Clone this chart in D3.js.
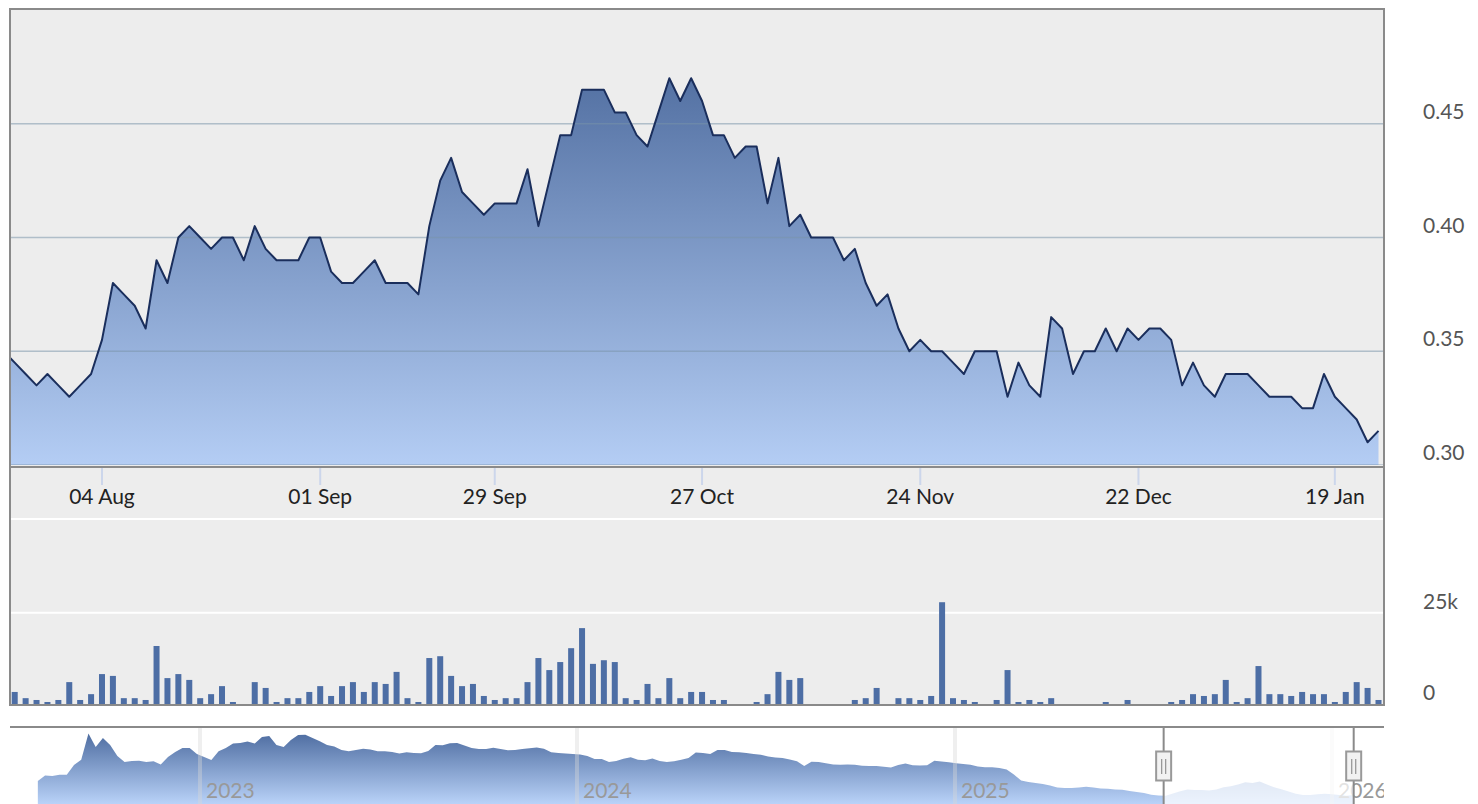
<!DOCTYPE html>
<html><head><meta charset="utf-8">
<script src="https://cdn.jsdelivr.net/npm/d3@7"></script>
<style>
html,body{margin:0;padding:0;background:#fff;}
svg{display:block;font-family:Lato,"Open Sans",sans-serif;}
</style></head><body>
<svg id="chart" width="1478" height="804"></svg>
<script>
// ---- data ----
const prices = [
0.35,0.345,0.34,0.335,0.34,0.335,0.33,0.335,0.34,0.355,
0.38,0.375,0.37,0.36,0.39,0.38,0.40,0.405,0.40,0.395,
0.40,0.40,0.39,0.405,0.395,0.39,0.39,0.39,0.40,0.40,
0.385,0.38,0.38,0.385,0.39,0.38,0.38,0.38,0.375,0.405,
0.425,0.435,0.42,0.415,0.41,0.415,0.415,0.415,0.43,0.405,
0.425,0.445,0.445,0.465,0.465,0.465,0.455,0.455,0.445,0.44,
0.455,0.47,0.46,0.47,0.46,0.445,0.445,0.435,0.44,0.44,
0.415,0.435,0.405,0.41,0.40,0.40,0.40,0.39,0.395,0.38,
0.37,0.375,0.36,0.35,0.355,0.35,0.35,0.345,0.34,0.35,
0.35,0.35,0.33,0.345,0.335,0.33,0.365,0.36,0.34,0.35,
0.35,0.36,0.35,0.36,0.355,0.36,0.36,0.355,0.335,0.345,
0.335,0.33,0.34,0.34,0.34,0.335,0.33,0.33,0.33,0.325,
0.325,0.34,0.33,0.325,0.32,0.31,0.315
];
const volumes = [
2000,3300,1600,1100,550,1100,6000,1100,2700,8200,
7700,1600,1600,1100,15900,7100,8200,6600,1600,2700,
4900,550,0,6000,4400,550,1600,1600,3300,4900,
2200,4900,6000,3300,6000,5500,8800,1600,550,12600,
13100,7700,4900,5500,2200,1100,1600,1600,6000,12600,
9300,11500,15300,20800,11000,12000,11500,1600,1100,5500,
1600,7100,1600,3300,3300,1100,1100,0,0,550,
2700,8800,6600,7100,0,0,0,0,1100,1600,
4400,0,1600,1600,1100,2200,27900,1600,1100,550,
0,1100,9300,550,1100,550,1600,0,0,0,
0,550,0,1100,0,0,0,550,1100,2700,
2200,2700,6600,550,1600,10400,2700,2700,2200,3300,
2700,2700,550,3300,6000,4400,1100
];
const tickIndex = [9,29,45,64,84,104,122];
const tickLabels = ["04 Aug","01 Sep","29 Sep","27 Oct","24 Nov","22 Dec","19 Jan"];
const priceTicks = [0.30,0.35,0.40,0.45];
const volumeTicks = [0,25000];
const navStart = "2022-07-28";
const navStepDays = 7;
const navValues = [
0.478,0.545,0.539,0.554,0.554,0.671,0.735,1.050,0.888,0.996,
0.912,0.780,0.707,0.719,0.723,0.707,0.716,0.677,0.767,0.828,
0.876,0.876,0.804,0.767,0.731,0.836,0.876,0.930,0.936,0.954,
0.930,1.008,1.020,0.912,0.888,0.972,1.032,1.036,0.996,0.957,
0.912,0.894,0.852,0.836,0.852,0.867,0.858,0.836,0.836,0.828,
0.810,0.824,0.816,0.812,0.840,0.912,0.908,0.933,0.936,0.906,
0.876,0.864,0.864,0.878,0.864,0.848,0.852,0.864,0.872,0.881,
0.867,0.824,0.816,0.810,0.804,0.798,0.780,0.743,0.743,0.707,
0.719,0.747,0.764,0.734,0.728,0.749,0.719,0.707,0.716,0.735,
0.755,0.822,0.816,0.804,0.852,0.852,0.828,0.824,0.816,0.804,
0.795,0.773,0.761,0.755,0.737,0.716,0.659,0.710,0.707,0.692,
0.677,0.675,0.677,0.675,0.661,0.659,0.659,0.649,0.641,0.671,
0.689,0.669,0.664,0.667,0.723,0.713,0.705,0.693,0.682,0.673,
0.654,0.643,0.643,0.635,0.617,0.557,0.484,0.466,0.454,0.443,
0.424,0.400,0.394,0.394,0.400,0.408,0.399,0.388,0.386,0.377,
0.373,0.358,0.346,0.333,0.313,0.304,0.302,0.328,0.354,0.376,
0.370,0.370,0.364,0.376,0.402,0.416,0.436,0.464,0.454,0.471,
0.436,0.402,0.380,0.351,0.324,0.310,0.310,0.318,0.324,0.319,
0.310,0.300,0.310
];
const navYears = ["2023","2024","2025","2026"];
const navRange = ["2025-07-22","2026-01-22"];

// ---- layout ----
const L = 10, R = 1384, T = 9, PB = 465, VT = 519, VB = 705;
const svg = d3.select("#chart");
const defs = svg.append("defs");

const x = d3.scaleLinear().domain([0, 126]).range([3.8, 1378.5]);
const yP = d3.scaleLinear().domain([0.30, 0.50]).range([465, 10]);
const yV = d3.scaleLinear().domain([0, 25000]).range([704, 612.8]);

const g1 = defs.append("linearGradient").attr("id","ga").attr("gradientUnits","userSpaceOnUse")
  .attr("x1",0).attr("x2",0).attr("y1",40).attr("y2",465);
g1.append("stop").attr("offset","0").attr("stop-color","#4a689b");
g1.append("stop").attr("offset","1").attr("stop-color","#b4cdf4");
const g2 = defs.append("linearGradient").attr("id","gn").attr("gradientUnits","userSpaceOnUse")
  .attr("x1",0).attr("x2",0).attr("y1",733).attr("y2",804);
g2.append("stop").attr("offset","0").attr("stop-color","#4e6da1");
g2.append("stop").attr("offset","1").attr("stop-color","#b9d2f8");

defs.append("clipPath").attr("id","cp").append("rect")
  .attr("x",L).attr("y",T).attr("width",R-L-1).attr("height",PB-T);
defs.append("clipPath").attr("id","cv").append("rect")
  .attr("x",L).attr("y",VT).attr("width",R-L-1).attr("height",VB-VT);
defs.append("clipPath").attr("id","cn").append("rect")
  .attr("x",L).attr("y",727).attr("width",R-L).attr("height",80);

// panel background
svg.append("rect").attr("x",L).attr("y",T).attr("width",R-L).attr("height",VB-T).attr("fill","#ededed");

// price pane
const pp = svg.append("g").attr("clip-path","url(#cp)");
pp.append("path").datum(prices)
  .attr("d", d3.area().x((d,i)=>x(i)).y0(yP(0.30)).y1(d=>yP(d)))
  .attr("fill","url(#ga)");
pp.selectAll("line.grid").data(priceTicks).join("line")
  .attr("x1",L).attr("x2",R).attr("y1",d=>yP(d)).attr("y2",d=>yP(d))
  .attr("stroke","rgba(120,148,168,0.52)").attr("stroke-width",1.6);
pp.append("path").datum(prices)
  .attr("d", d3.line().x((d,i)=>x(i)).y(d=>yP(d)))
  .attr("fill","none").attr("stroke","#1a2e5c").attr("stroke-width",2).attr("stroke-linejoin","round");

// x axis line, ticks, labels
svg.append("line").attr("x1",L).attr("x2",R).attr("y1",467).attr("y2",467)
  .attr("stroke","#8a8a8a").attr("stroke-width",2);
svg.selectAll("line.tick").data(tickIndex).join("line")
  .attr("x1",d=>x(d)).attr("x2",d=>x(d)).attr("y1",468).attr("y2",485)
  .attr("stroke","#ccd6eb").attr("stroke-width",2);
svg.selectAll("text.xl").data(tickIndex).join("text")
  .attr("x",d=>x(d)).attr("y",504).attr("text-anchor","middle")
  .attr("font-size",21).attr("fill","#222").text((d,i)=>tickLabels[i]);

// volume pane
svg.append("line").attr("x1",L).attr("x2",R).attr("y1",VT).attr("y2",VT).attr("stroke","#fff").attr("stroke-width",2);
svg.append("line").attr("x1",L).attr("x2",R).attr("y1",yV(25000)).attr("y2",yV(25000)).attr("stroke","#fff").attr("stroke-width",2);
const vp = svg.append("g").attr("clip-path","url(#cv)");
vp.selectAll("rect").data(volumes).join("rect")
  .attr("x",(d,i)=>x(i)-3).attr("width",6)
  .attr("y",d=>yV(d)).attr("height",d=>yV(0)-yV(d))
  .attr("fill","#4d6ea5");

// border
svg.append("rect").attr("x",L).attr("y",T).attr("width",R-L).attr("height",VB-T)
  .attr("fill","none").attr("stroke","#8a8a8a").attr("stroke-width",2);

// y labels
svg.selectAll("text.yp").data(priceTicks).join("text")
  .attr("x",1423).attr("y",d=>yP(d)-5).attr("font-size",21).attr("fill","#555")
  .text(d=>d3.format(".2f")(d));
svg.selectAll("text.yv").data(volumeTicks).join("text")
  .attr("x",1423).attr("y",d=>yV(d)-4).attr("font-size",21).attr("fill","#555")
  .text(d=>d3.format("~s")(d));

// navigator
const parse = d3.utcParse("%Y-%m-%d");
const xN = d3.scaleUtc().domain([parse("2023-01-01"), parse("2026-01-01")]).range([200, 1332]);
const yN = d3.scaleLinear().domain([0.20, 1.10]).range([804.1, 729.4]);
const start = parse(navStart);
const navData = navValues.map((v,k)=>({d:d3.utcDay.offset(start, k*navStepDays), v}));
const np = svg.append("g").attr("clip-path","url(#cn)");
np.append("path").datum(navData)
  .attr("d", d3.area().x(p=>xN(p.d)).y0(820).y1(p=>yN(p.v)))
  .attr("fill","url(#gn)");
np.selectAll("line.yg").data(navYears).join("line")
  .attr("x1",d=>xN(parse(d+"-01-01"))).attr("x2",d=>xN(parse(d+"-01-01")))
  .attr("y1",727).attr("y2",810).attr("stroke","rgba(215,215,215,0.4)").attr("stroke-width",4);
np.selectAll("text.yr").data(navYears).join("text")
  .attr("x",d=>xN(parse(d+"-01-01"))+6).attr("y",798).attr("font-size",21).attr("fill","#999")
  .text(d=>d);
const x0 = xN(parse(navRange[0])), x1 = xN(parse(navRange[1]));
np.append("rect").attr("x",x0).attr("y",728).attr("width",x1-x0).attr("height",80)
  .attr("fill","rgba(255,255,255,0.72)");
svg.append("line").attr("x1",L).attr("x2",R).attr("y1",727).attr("y2",727)
  .attr("stroke","#8a8a8a").attr("stroke-width",2);
[x0,x1].forEach(hx=>{
  svg.append("line").attr("x1",hx).attr("x2",hx).attr("y1",727).attr("y2",804)
    .attr("stroke","#8a8a8a").attr("stroke-width",2);
  svg.append("rect").attr("x",hx-7.5).attr("y",751.5).attr("width",15).attr("height",29)
    .attr("fill","#f2f2f2").attr("stroke","#999").attr("stroke-width",2);
  [-2,2].forEach(o=>svg.append("line").attr("x1",hx+o).attr("x2",hx+o).attr("y1",759).attr("y2",774)
    .attr("stroke","#999").attr("stroke-width",1.3));
});
</script>
</body></html>
